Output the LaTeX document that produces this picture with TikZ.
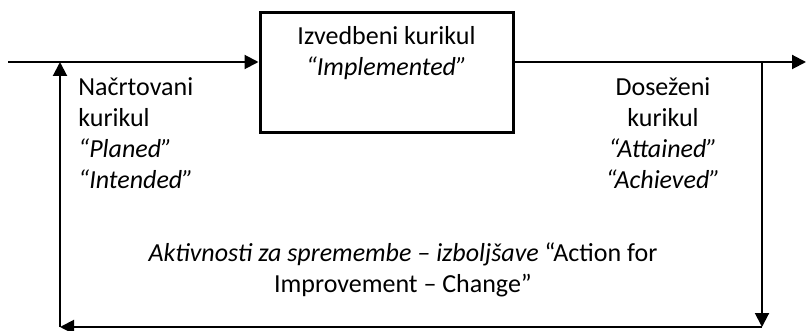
\documentclass[tikz,border=0pt]{standalone}
\usepackage{fontspec}
\setmainfont{Carlito}
\usetikzlibrary{arrows.meta,positioning,calc}

\begin{document}
\begin{tikzpicture}[
    x=0.5pt, y=-0.5pt,
    every node/.style={font=\fontsize{13}{15.5}\selectfont},
    curbox/.style={rectangle, draw=black, line width=1.5pt, minimum width=126.5pt, minimum height=60pt, inner sep=0pt},
    wire/.style={line width=1pt},
    flow/.style={wire, -{Triangle[length=7pt,width=7pt]}},
    label/.style={align=center, inner sep=0pt}
]

% Frame (reference size)
\useasboundingbox (0, 0) rectangle (807, 331);

% Implemented curriculum
\node[curbox] (impl) at (386.5, 73) {};
\node[label, below=7.5pt of impl.north] (impltxt) {Izvedbeni kurikul\\\textit{“Implemented”}};

% Loop corners
\coordinate (in) at (8, 62);
\coordinate (out) at (806, 62);
\coordinate (rtop) at (762, 62);
\coordinate (rbot) at (762, 327);
\coordinate (lbot) at (60, 327);
\coordinate (ltop) at (60, 62);

% Main flow
\draw[flow] (in) -- (in -| impl.west);
\draw[flow] (impl.east |- out) -- (out);

% Feedback loop
\draw[flow] (rtop) -- (rbot);
\draw[flow] (rbot) -- (lbot);
\draw[flow] (lbot) -- (ltop);

% Planned and attained curriculum
\node[label, align=left, anchor=north west] (planned) at (78, 77) {Načrtovani\\kurikul\\\textit{“Planed”}\\\textit{“Intended”}};
\node[label, anchor=north] (attained) at (663, 77) {Doseženi\\kurikul\\\textit{“Attained”}\\\textit{“Achieved”}};

% Action for improvement
\node[label, anchor=north] (action) at (403, 242) {\textit{Aktivnosti za spremembe – izboljšave} “Action for\\Improvement – Change”};

\end{tikzpicture}
\end{document}
